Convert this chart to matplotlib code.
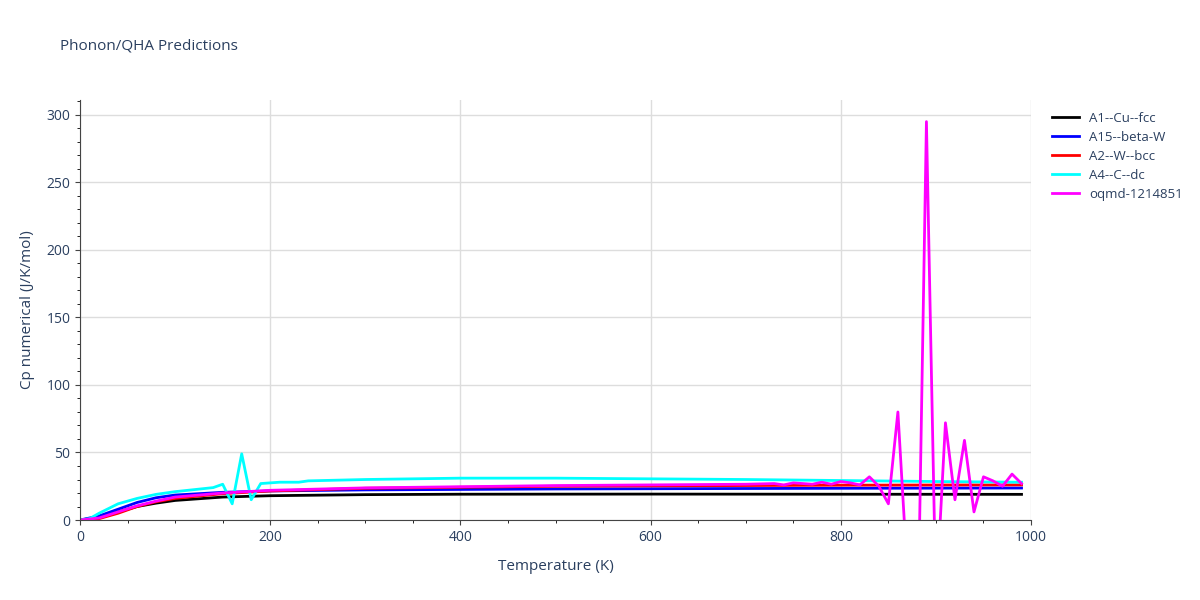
import matplotlib
matplotlib.use("Agg")
import matplotlib.pyplot as plt

plt.rcParams.update({"font.family": ["Open Sans", "DejaVu Sans"], "font.size": 10})
TXT = "#2a3f5f"

# series data: (temperatures, Cp)
cu_t = [0, 20, 40, 60, 80, 100, 150, 200, 300, 400, 600, 800, 990]
cu_cp = [0, 2, 6, 10, 12.5, 14.5, 17, 18, 18.8, 19.1, 19.2, 19.1, 19.0]

w15_t = [0, 20, 40, 60, 80, 100, 150, 200, 300, 500, 800, 990]
w15_cp = [0, 3, 8, 13, 16.5, 18.5, 20.5, 21.5, 22.3, 23, 23.5, 23.7]

w_t = [0, 20, 40, 60, 80, 100, 150, 200, 300, 500, 800, 990]
w_cp = [0, 1, 5, 10, 13.5, 16, 19.5, 21.5, 23.5, 25, 25.8, 26]

c_t = [0, 10, 20, 40, 60, 80, 100, 120, 140, 150, 160, 170, 180, 190,
       210, 230, 240, 300, 400, 500, 700, 900, 990]
c_cp = [0, 1, 5, 12, 16, 19, 21, 22.5, 24, 26.5, 12, 49, 15, 27,
        28, 28, 29, 30, 31, 31, 30, 28.5, 28]

oq_t = [0, 20, 40, 60, 80, 100, 150, 200, 300, 500, 700, 730, 740, 750, 760,
        770, 780, 790, 800, 810, 820, 830, 840, 850, 860, 870, 880, 890, 900,
        910, 920, 930, 940, 950, 960, 970, 980, 990]
oq_cp = [0, 1.5, 6, 10.5, 14, 17, 20, 22, 23.8, 25.5, 26.5, 27, 26, 27.5, 27,
         26.5, 28, 26.5, 28.5, 27.5, 26, 32, 25, 12, 80, -40, -120, 295, -60,
         72, 15, 59, 6, 32, 29, 25, 34, 27]

series = [
    ("A1--Cu--fcc", cu_t, cu_cp, "black"),
    ("A15--beta-W", w15_t, w15_cp, "blue"),
    ("A2--W--bcc", w_t, w_cp, "red"),
    ("A4--C--dc", c_t, c_cp, "cyan"),
    ("oqmd-1214851", oq_t, oq_cp, "magenta"),
]

fig = plt.figure(figsize=(12, 6), dpi=100)
ax = fig.add_axes([0.0667, 0.1333, 0.7925, 0.7])
for name, t, cp, col in series:
    ax.plot(t, cp, color=col, lw=2, label=name)

ax.set_xlim(0, 1000)
ax.set_ylim(0, 311)
ax.set_xticks(range(0, 1001, 200))
ax.set_yticks(range(0, 301, 50))
ax.set_xticks(range(0, 1001, 50), minor=True)
ax.set_yticks(range(0, 311, 10), minor=True)
ax.grid(True, color="#dddddd", lw=1)
ax.set_axisbelow(True)
for s in ("top", "right"):
    ax.spines[s].set_visible(False)
for s in ("left", "bottom"):
    ax.spines[s].set_color("#444444")
ax.tick_params(colors="#444444", labelcolor=TXT, labelsize=10)
ax.set_xlabel("Temperature (K)", color=TXT, fontsize=11, labelpad=10)
ax.set_ylabel("Cp numerical (J/K/mol)", color=TXT, fontsize=11, labelpad=8)
fig.text(0.05, 0.918, "Phonon/QHA Predictions", color=TXT, fontsize=11)
ax.legend(loc="upper left", bbox_to_anchor=(1.01, 1.0), frameon=False,
          fontsize=9.5, labelcolor=TXT, handlelength=2, labelspacing=0.45)
fig.savefig("out.png")
